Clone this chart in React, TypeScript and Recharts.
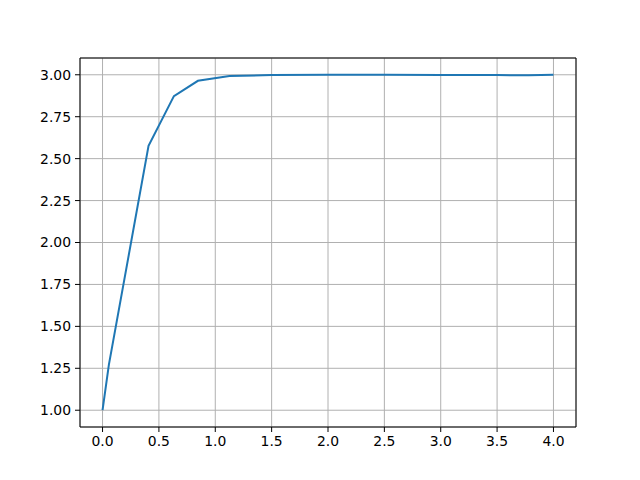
import { LineChart, Line, XAxis, YAxis, CartesianGrid, ReferenceLine } from "recharts";

const times = [0, 0.056, 0.408, 0.633, 0.846, 1.126, 1.5, 2.0, 2.5, 3.0, 3.5, 3.78, 4.0];
const values = [1.0, 1.27, 2.576, 2.873, 2.964, 2.992, 2.999, 3.0, 2.9995, 2.999, 2.998, 2.997, 3.0];
const xTicks = [0, 0.5, 1, 1.5, 2, 2.5, 3, 3.5, 4];
const yTicks = [1, 1.25, 1.5, 1.75, 2, 2.25, 2.5, 2.75, 3];

const data = times.map((t, i) => ({ t, y: values[i] }));

const tickStyle = { fontSize: 13.9, fill: "#000", fontFamily: "DejaVu Sans" };

export default function App() {
  return (
    <div style={{ position: "fixed", left: 0, top: 0, background: "#fff" }}>
      <LineChart width={640} height={480} data={data} margin={{ top: 58, right: 64, left: 0, bottom: 0 }}>
        <CartesianGrid stroke="#b0b0b0" strokeWidth={1} />
        <XAxis
          dataKey="t"
          type="number"
          domain={[-0.2, 4.2]}
          ticks={xTicks}
          tickFormatter={(v) => Number(v).toFixed(1)}
          height={53}
          tick={tickStyle}
          tickSize={5}
          tickMargin={4}
          stroke="#000"
          allowDataOverflow
        />
        <YAxis
          type="number"
          domain={[0.9, 3.1]}
          ticks={yTicks}
          tickFormatter={(v) => Number(v).toFixed(2)}
          width={80}
          tick={tickStyle}
          tickSize={5}
          tickMargin={4}
          stroke="#000"
          allowDataOverflow
        />
        <ReferenceLine y={3.1} stroke="#000" strokeWidth={1} />
        <ReferenceLine x={4.2} stroke="#000" strokeWidth={1} />
        <Line dataKey="y" stroke="#1f77b4" strokeWidth={2} dot={false} isAnimationActive={false} />
      </LineChart>
    </div>
  );
}
